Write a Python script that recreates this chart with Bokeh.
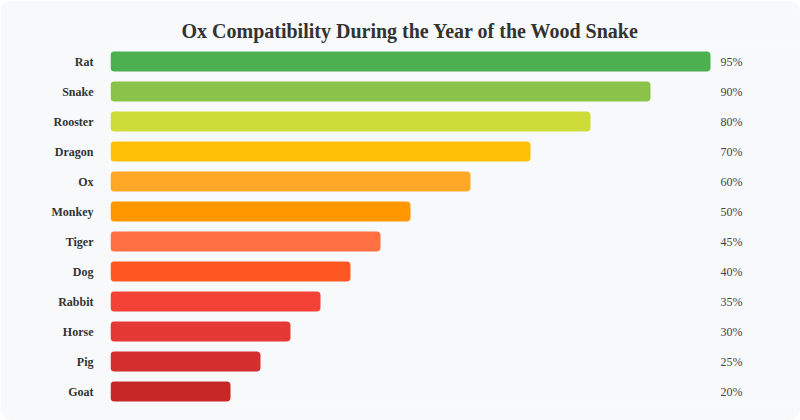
from bokeh.plotting import figure
from bokeh.models import ColumnDataSource, FactorRange, Range1d
from bokeh.core.properties import value
from bokeh.embed import file_html
from bokeh.resources import INLINE

animals = ["Rat", "Snake", "Rooster", "Dragon", "Ox", "Monkey", "Tiger", "Dog",
           "Rabbit", "Horse", "Pig", "Goat"]
bar_scores = [100, 90, 80, 70, 60, 50, 45, 40, 35, 30, 25, 20]
score_labels = ["95%", "90%", "80%", "70%", "60%", "50%", "45%", "40%",
                "35%", "30%", "25%", "20%"]
bar_colors = ["#4caf50", "#8bc34a", "#cddc39", "#ffc107", "#ffa726", "#ff9800",
              "#ff7043", "#ff5722", "#f44336", "#e53935", "#d32f2f", "#c62828"]

BG = "#f8f9fa"
FONT = "Liberation Serif"

src = ColumnDataSource(dict(
    animal=animals,
    score=bar_scores,
    label=score_labels,
    color=bar_colors,
    label_x=[max(bar_scores)] * len(animals),
))

p = figure(
    width=800, height=420,
    y_range=FactorRange(factors=list(reversed(animals)), range_padding=0),
    x_range=Range1d(0, max(bar_scores) * 1.15),
    output_backend="svg", toolbar_location=None,
    title="Ox Compatibility During the Year of the Wood Snake",
    min_border_left=110, min_border_right=0, min_border_top=46, min_border_bottom=14,
)
p.styles = {"position": "absolute", "left": "0px", "top": "0px",
            "border-radius": "12px", "overflow": "hidden"}

p.background_fill_color = BG
p.border_fill_color = BG
p.outline_line_color = None

p.title.text_font = FONT
p.title.text_font_size = "20px"
p.title.text_font_style = "bold"
p.title.text_color = "#333333"
p.title.align = "left"
p.title.offset = 71

p.hbar(y="animal", right="score", left=0, height=0.66, color="color",
       source=src, border_radius=4, line_color=None)

p.text(x="label_x", y="animal", text="label", source=src,
       x_offset=10, text_align="left", text_baseline="middle",
       text_font=value(FONT), text_font_size="12px", text_color="#444444")

p.xaxis.visible = False
p.xgrid.grid_line_color = None
p.ygrid.grid_line_color = None
p.yaxis.axis_line_color = None
p.yaxis.major_tick_line_color = None
p.yaxis.minor_tick_line_color = None
p.yaxis.major_label_text_font = FONT
p.yaxis.major_label_text_font_style = "bold"
p.yaxis.major_label_text_font_size = "12px"
p.yaxis.major_label_text_color = "#333333"
p.yaxis.major_label_standoff = 11

open("out.html", "w").write(file_html(p, INLINE))
